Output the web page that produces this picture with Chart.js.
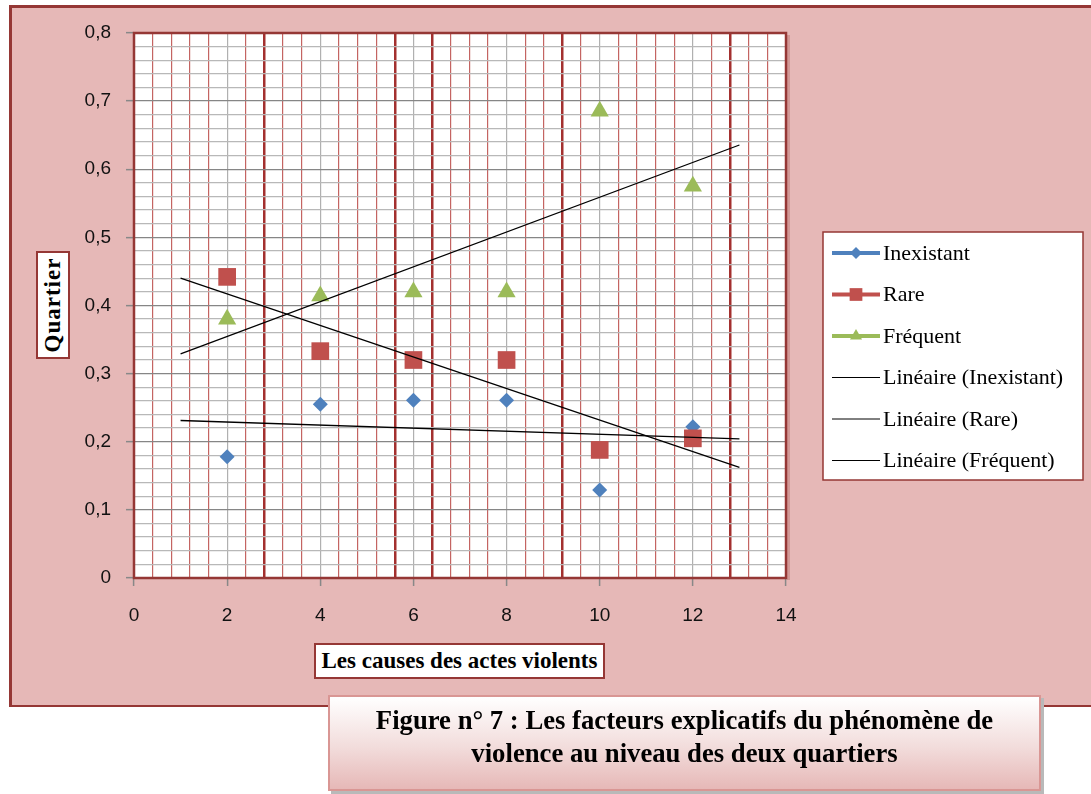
<!DOCTYPE html>
<html>
<head>
<meta charset="utf-8">
<title>Figure n° 7</title>
<script src="https://cdn.jsdelivr.net/npm/chart.js@4.4.1/dist/chart.umd.min.js"></script>
<style>
body{margin:0;background:#fff;width:1091px;height:794px;overflow:hidden;position:relative;font-family:"Liberation Serif","Times New Roman",serif;}
#frame{position:absolute;left:9px;top:5px;width:1079px;height:697px;background:#E6B8B7;border-left:3px solid #953735;border-top:3px solid #953735;border-bottom:2px solid #953735;}
#chart{position:absolute;left:0;top:0;}
.titleBox{position:absolute;background:#fff;border:2px solid #953735;box-sizing:border-box;font-weight:bold;color:#000;text-align:center;}
#xTitle{left:314px;top:643px;width:291px;height:36px;font-size:23px;line-height:32px;}
#yTitle{left:36px;top:251px;width:34px;height:108px;font-size:23px;}
#yTitle span{position:absolute;left:50%;top:50%;transform:translate(-50%,-50%) rotate(-90deg);white-space:nowrap;letter-spacing:1px;}
#caption{position:absolute;left:328px;top:695px;width:713px;height:96px;box-sizing:border-box;border:2px solid #D99694;background:linear-gradient(to bottom,#ffffff 0%,#F2DCDB 55%,#E6B8B7 100%);box-shadow:3px 3px 0 #b9b9b9;text-align:center;font-weight:bold;font-size:26.7px;line-height:33px;padding-top:7px;color:#000;}
</style>
</head>
<body>

<div id="frame"></div>
<canvas id="chart" width="1091" height="794"></canvas>
<div class="titleBox" id="yTitle"><span>Quartier</span></div>
<div class="titleBox" id="xTitle">Les causes des actes violents</div>
<div id="caption">Figure n° 7 : Les facteurs explicatifs du phénomène de<br>violence au niveau des deux quartiers</div>

<script>

// DATA

const xValues = [2, 4, 6, 8, 10, 12];

const inexistant = [0.178, 0.255, 0.261, 0.261, 0.129, 0.222];
const rare       = [0.442, 0.333, 0.320, 0.320, 0.188, 0.205];
const frequent   = [0.380, 0.414, 0.420, 0.420, 0.685, 0.575];

const seriesNames = ["Inexistant", "Rare", "Fréquent"];

// trend lines run one unit before and after the data (Excel forecast)
const trendStart = 1;
const trendEnd = 13;

// axis ranges
const xMin = 0, xMax = 14, xStep = 0.4, xLabelEvery = 2;
const yMin = 0, yMax = 0.8, yStep = 0.02, yLabelEvery = 0.1;

// darker red grid lines seen on the scan
const thickRedLines = [2.8, 5.6, 6.4, 9.2, 12.8];


function isMultiple(v, step){
const r = v / step;
return Math.abs(r - Math.round(r)) < 1e-6;
}

function points(ys){
return xValues.map((x, i) => ({x: x, y: ys[i]}));
}

function trend(ys){
const n = xValues.length;
const mx = xValues.reduce((a, b) => a + b, 0) / n;
const my = ys.reduce((a, b) => a + b, 0) / n;
let sxy = 0, sxx = 0;
xValues.forEach((x, i) => {
sxy += (x - mx) * (ys[i] - my);
sxx += (x - mx) * (x - mx);
});
const b = sxy / sxx;
const a = my - b * mx;
return [trendStart, trendEnd].map(x => ({x: x, y: a + b * x}));
}


// PLOT AREA BACKGROUND AND BORDER

const plotFrame = {
id: "plotFrame",
beforeDraw(chart){
const a = chart.chartArea;
const ctx = chart.ctx;
ctx.save();
ctx.fillStyle = "#ffffff";
ctx.fillRect(a.left, a.top, a.right - a.left, a.bottom - a.top);
ctx.restore();
},
beforeDatasetsDraw(chart){
const a = chart.chartArea;
const ctx = chart.ctx;
ctx.save();
ctx.fillStyle = "rgba(149,55,53,0.25)";
ctx.fillRect(a.right + 1, a.top + 2, 3, a.bottom - a.top);
ctx.strokeStyle = "#953735";
ctx.lineWidth = 2.5;
ctx.strokeRect(a.left, a.top, a.right - a.left, a.bottom - a.top);
ctx.restore();
}
};


// LEGEND (line + marker samples in a white box)

const boxLegend = {
id: "boxLegend",
afterDraw(chart){
const ctx = chart.ctx;
const x = chart.chartArea.right + 37;
const y = 232;
const w = 260;
const h = 248;

ctx.save();
ctx.fillStyle = "#ffffff";
ctx.fillRect(x, y, w, h);
ctx.strokeStyle = "#953735";
ctx.lineWidth = 1.5;
ctx.strokeRect(x, y, w, h);

ctx.font = '22px "Liberation Serif"';
ctx.textBaseline = "middle";
ctx.textAlign = "left";

chart.data.datasets.forEach((ds, i) => {
const cy = y + 21 + i * 41.5;
const isTrend = ds.pointRadius === 0;

ctx.strokeStyle = ds.borderColor;
ctx.lineWidth = isTrend ? 1 : 4;
ctx.beginPath();
ctx.moveTo(x + 9, cy);
ctx.lineTo(x + 57, cy);
ctx.stroke();

if(!isTrend){
ctx.fillStyle = ds.backgroundColor;
ctx.strokeStyle = ds.backgroundColor;
Chart.helpers.drawPoint(ctx, {
pointStyle: ds.pointStyle,
radius: ds.legendRadius,
rotation: 0,
borderWidth: 0
}, x + 33, cy);
}

ctx.fillStyle = "#000";
ctx.fillText(ds.label, x + 60, cy + 1);
});

ctx.restore();
}
};


// CHART

const blue = "#4F81BD";
const red = "#C0504D";
const green = "#9BBB59";

new Chart(document.getElementById("chart"), {

type: "scatter",

data: {
datasets: [
{
label: seriesNames[0],
data: points(inexistant),
pointStyle: "rectRot",
pointRadius: 7.5,
legendRadius: 6,
backgroundColor: blue,
borderColor: blue,
borderWidth: 0,
order: 3
},
{
label: seriesNames[1],
data: points(rare),
pointStyle: "rect",
pointRadius: 12.5,
legendRadius: 9,
backgroundColor: red,
borderColor: red,
borderWidth: 0,
order: 2
},
{
label: seriesNames[2],
data: points(frequent),
pointStyle: "triangle",
pointRadius: 10.5,
legendRadius: 7,
backgroundColor: green,
borderColor: green,
borderWidth: 0,
order: 1
},
{
label: "Linéaire (" + seriesNames[0] + ")",
data: trend(inexistant),
showLine: true,
pointRadius: 0,
borderColor: "#000",
borderWidth: 1.3,
order: 0
},
{
label: "Linéaire (" + seriesNames[1] + ")",
data: trend(rare),
showLine: true,
pointRadius: 0,
borderColor: "#000",
borderWidth: 1.3,
order: 0
},
{
label: "Linéaire (" + seriesNames[2] + ")",
data: trend(frequent),
showLine: true,
pointRadius: 0,
borderColor: "#000",
borderWidth: 1.3,
order: 0
}
]
},

options: {
responsive: false,
animation: false,
events: [],
layout: {
padding: {left: 74, top: 33, right: 305, bottom: 166}
},
plugins: {
legend: {display: false},
tooltip: {enabled: false}
},
scales: {
x: {
type: "linear",
min: xMin,
max: xMax,
afterFit(scale){ scale.height = 50; },
border: {display: false},
ticks: {
stepSize: xStep,
autoSkip: false,
maxRotation: 0,
padding: 18,
color: "#111",
font: {family: "Liberation Sans", size: 19},
callback: v => isMultiple(v, xLabelEvery) ? String(Math.round(v)) : ""
},
grid: {
tickLength: 8,
tickWidth: 1.5,
tickColor: c => isMultiple(c.tick.value, xLabelEvery) ? "#888888" : "rgba(0,0,0,0)",
color: c => {
const v = c.tick.value;
if(isMultiple(v, xLabelEvery)) return "#b0b0b0";
if(thickRedLines.some(t => Math.abs(t - v) < 1e-6)) return "#A3302F";
return "#C46462";
},
lineWidth: c => thickRedLines.some(t => Math.abs(t - c.tick.value) < 1e-6) ? 2.5 : 1.2
}
},
y: {
min: yMin,
max: yMax,
afterFit(scale){ scale.width = 60; },
border: {display: false},
ticks: {
stepSize: yStep,
autoSkip: false,
padding: 15,
color: "#111",
font: {family: "Liberation Sans", size: 19},
callback: v => {
if(!isMultiple(v, yLabelEvery)) return "";
return v === 0 ? "0" : v.toFixed(1).replace(".", ",");
}
},
grid: {
tickLength: 8,
tickWidth: 1.5,
tickColor: c => isMultiple(c.tick.value, yLabelEvery) ? "#888888" : "rgba(0,0,0,0)",
color: c => isMultiple(c.tick.value, yLabelEvery) ? "#868686" : "#b8b8b8",
lineWidth: 1.3
}
}
}
},

plugins: [plotFrame, boxLegend]

});

</script>
</body>
</html>
